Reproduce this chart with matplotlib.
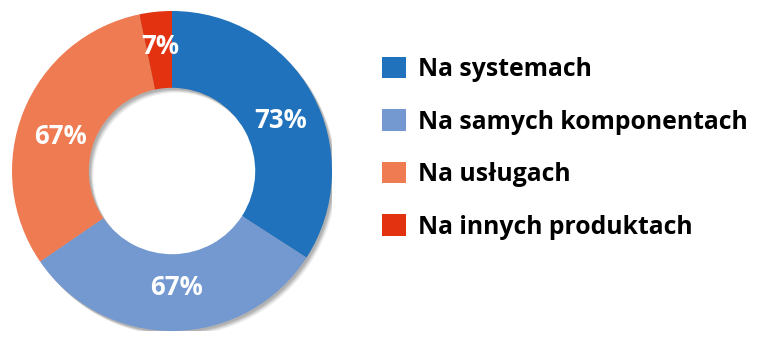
import matplotlib.pyplot as plt
from matplotlib.patches import Wedge

categories = ["Na systemach", "Na samych komponentach", "Na usługach", "Na innych produktach"]
values = [73, 67, 67, 7]
value_labels = ["73%", "67%", "67%", "7%"]
colors = ["#1f72bb", "#7399d0", "#ee7b52", "#e3320f"]

plt.rcParams['font.family'] = ['Open Sans', 'DejaVu Sans']

fig = plt.figure(figsize=(7.63, 3.46), dpi=100)
# pie axes: centre (172, 171) px from top-left, outer radius 160 px
ax = fig.add_axes([(172 - 160) / 763, (346 - 171 - 160) / 346, 320 / 763, 320 / 346])

width = 0.48
px = 1 / 160
# soft shadow under the ring
for k, a in [(5, 0.06), (4, 0.08), (3, 0.10), (2, 0.10)]:
    ax.add_patch(Wedge((k * px * 0.9, -k * px), 1.0, 0, 360, width=width,
                       facecolor="black", alpha=a, linewidth=0, zorder=0))

wedges, texts, autotexts = ax.pie(
    values, colors=colors, startangle=90, counterclock=False,
    radius=1.0, autopct="%1.0f%%", pctdistance=0.765,
    wedgeprops=dict(width=width, linewidth=0, zorder=2),
    textprops=dict(color="white", fontsize=18.5, fontweight="bold"))
# small nudges (px) so labels sit where the original places them
nudges = [(1.5, -8.5), (3, 6), (2.5, -11), (0.5, 3)]
for t, lab, (dx, dy) in zip(autotexts, value_labels, nudges):
    t.set_text(lab)
    x, y = t.get_position()
    t.set_position((x + dx * px, y + dy * px))
    t.set_zorder(3)

ax.set_xlim(-1, 1)
ax.set_ylim(-1, 1)
ax.set_aspect("equal")
ax.axis("off")

leg = fig.legend(wedges, categories, loc="upper left",
                 bbox_to_anchor=(382 / 763, 1 - 57 / 346),
                 frameon=False, prop=dict(weight="bold", size=17.8),
                 handlelength=0.96, handleheight=0.96, handletextpad=0.5,
                 labelspacing=1.1, borderaxespad=0, borderpad=0)

plt.savefig("out.png", dpi=100)
plt.close()
